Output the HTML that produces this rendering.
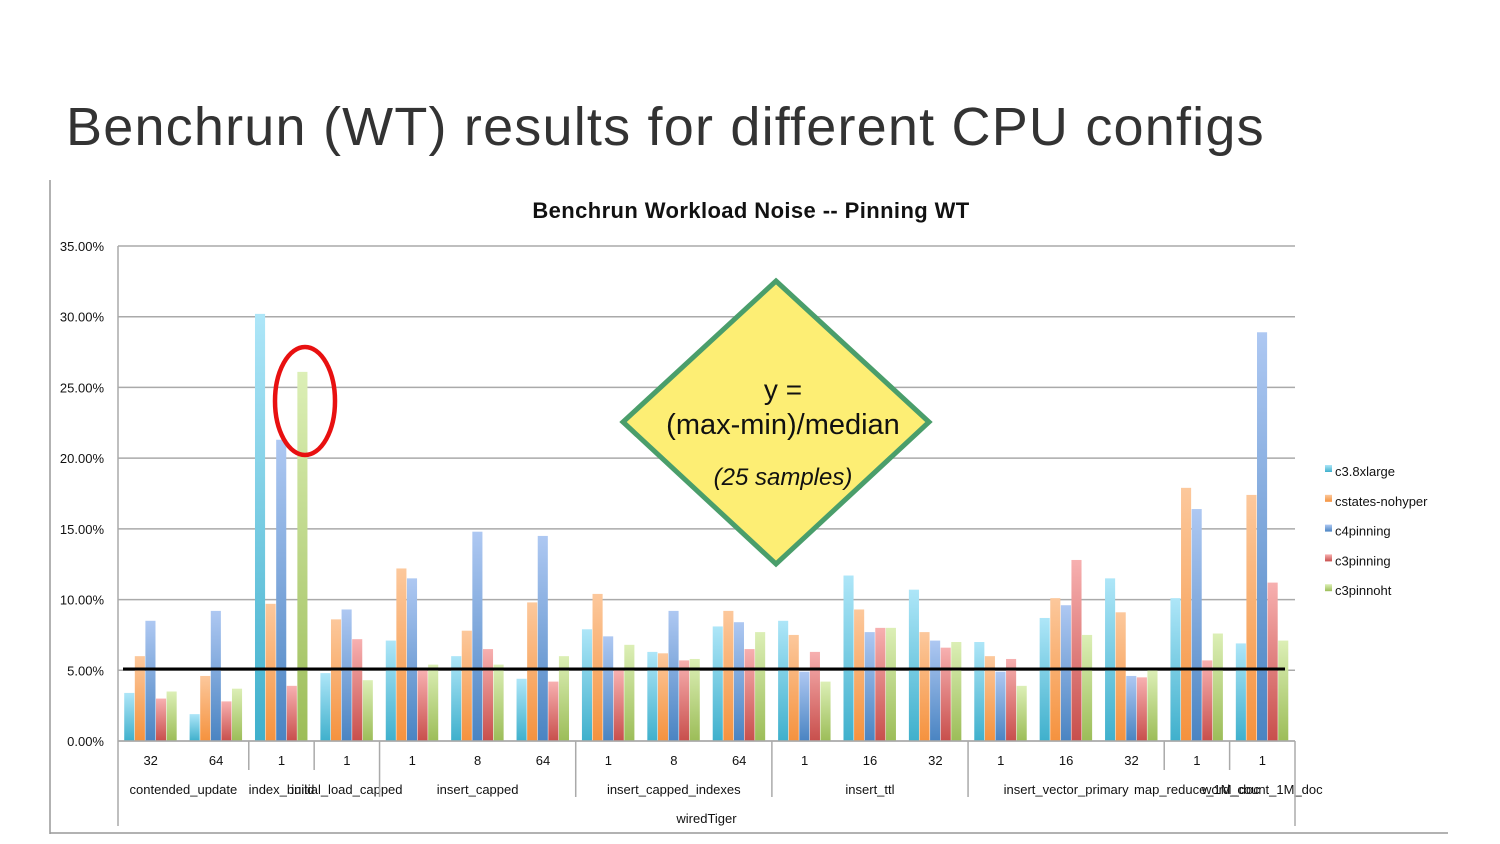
<!DOCTYPE html>
<html><head><meta charset="utf-8"><style>
body{margin:0;width:1500px;height:844px;background:#fff;overflow:hidden;font-family:"Liberation Sans",sans-serif}
svg{position:absolute;left:0;top:0}
</style></head><body>
<svg id="s" width="1500" height="844">
<defs>
<linearGradient id="g0" x1="0" y1="0" x2="0" y2="1"><stop offset="0" stop-color="#aee6f8"/><stop offset="1" stop-color="#3fb0cc"/></linearGradient>
<linearGradient id="g1" x1="0" y1="0" x2="0" y2="1"><stop offset="0" stop-color="#fcc89c"/><stop offset="1" stop-color="#f5923e"/></linearGradient>
<linearGradient id="g2" x1="0" y1="0" x2="0" y2="1"><stop offset="0" stop-color="#aec8f2"/><stop offset="1" stop-color="#4a84c2"/></linearGradient>
<linearGradient id="g3" x1="0" y1="0" x2="0" y2="1"><stop offset="0" stop-color="#f7b0b0"/><stop offset="1" stop-color="#c84f4c"/></linearGradient>
<linearGradient id="g4" x1="0" y1="0" x2="0" y2="1"><stop offset="0" stop-color="#dcefb6"/><stop offset="1" stop-color="#9cbd58"/></linearGradient>
</defs>
<text x="66" y="145" font-size="54" letter-spacing="1.2" fill="#333">Benchrun (WT) results for different CPU configs</text>
<line x1="50" y1="180" x2="50" y2="834" stroke="#999" stroke-width="1.5"/>
<line x1="50" y1="833" x2="1448" y2="833" stroke="#999" stroke-width="1.5"/>
<text x="751" y="218" font-size="22" font-weight="bold" letter-spacing="0.4" text-anchor="middle" fill="#111">Benchrun Workload Noise -- Pinning WT</text>
<g id="grid"></g><g id="bars"></g><g id="xaxis"></g><g id="legend"></g>
<line x1="123" y1="669" x2="1285" y2="669" stroke="#000" stroke-width="3"/>
<polygon points="776,281 929,422 776,564 623,422" fill="#fdee74" stroke="#4a9e6b" stroke-width="5"/>
<text x="783" y="399" font-size="28" text-anchor="middle" fill="#111">y =</text>
<text x="783" y="434" font-size="29" text-anchor="middle" fill="#111">(max-min)/median</text>
<text x="783" y="485" font-size="24" font-style="italic" text-anchor="middle" fill="#111">(25 samples)</text>
<ellipse cx="305" cy="401" rx="30" ry="54" fill="none" stroke="#e81010" stroke-width="4.5"/>
</svg>
<script>
const categories=["32","64","1","1","1","8","64","1","8","64","1","16","32","1","16","32","1","1"];
const groups=["contended_update","index_build","initial_load_capped","insert_capped","insert_capped_indexes","insert_ttl","insert_vector_primary","map_reduce_1M_doc","word_count_1M_doc"];
const groupSizes=[2,1,1,3,3,3,3,1,1];
const seriesNames=["c3.8xlarge","cstates-nohyper","c4pinning","c3pinning","c3pinnoht"];
const c38xlarge=[3.4,1.9,30.2,4.8,7.1,6.0,4.4,7.9,6.3,8.1,8.5,11.7,10.7,7.0,8.7,11.5,10.1,6.9];
const cstatesNohyper=[6.0,4.6,9.7,8.6,12.2,7.8,9.8,10.4,6.2,9.2,7.5,9.3,7.7,6.0,10.1,9.1,17.9,17.4];
const c4pinning=[8.5,9.2,21.3,9.3,11.5,14.8,14.5,7.4,9.2,8.4,4.9,7.7,7.1,4.9,9.6,4.6,16.4,28.9];
const c3pinning=[3.0,2.8,3.9,7.2,5.0,6.5,4.2,5.0,5.7,6.5,6.3,8.0,6.6,5.8,12.8,4.5,5.7,11.2];
const c3pinnoht=[3.5,3.7,26.1,4.3,5.4,5.4,6.0,6.8,5.8,7.7,4.2,8.0,7.0,3.9,7.5,5.0,7.6,7.1];
const yTicks=[0,5,10,15,20,25,30,35];
const series=[c38xlarge,cstatesNohyper,c4pinning,c3pinning,c3pinnoht];
const NS="http://www.w3.org/2000/svg";
const X0=118,X1=1295,Y0=741,Y35=246;
const y=v=>Y0-(v/35)*(Y0-Y35);
const cw=(X1-X0)/categories.length;
const x=i=>X0+i*cw;
function mk(t,a,p){const e=document.createElementNS(NS,t);for(const k in a)e.setAttribute(k,a[k]);p.appendChild(e);return e;}
const grid=document.getElementById('grid');
yTicks.forEach(t=>{
  const l=mk('line',{x1:X0,x2:X1,y1:y(t),y2:y(t),stroke:'#aaa','stroke-width':1.5},grid);
  
  
  const tx=mk('text',{x:104,y:y(t)+5,'font-size':13,'text-anchor':'end',fill:'#111'},grid);
  tx.textContent=t.toFixed(2)+'%';
  
  
});
const yl=mk('line',{x1:X0,x2:X0,y1:246,y2:826,stroke:'#aaa','stroke-width':1.5},grid);


const bars=document.getElementById('bars');
const bw=cw*0.162,off=cw*0.095;
series.forEach((s,si)=>s.forEach((v,i)=>{
  const r=mk('rect',{x:x(i)+off+si*bw,y:y(v),width:bw-0.5,height:Y0-y(v),fill:'url(#g'+si+')'},bars);
  
  
}));
const xa=document.getElementById('xaxis');
categories.forEach((c,i)=>{
  const t=mk('text',{x:x(i)+cw/2,y:765,'font-size':13,'text-anchor':'middle',fill:'#111'},xa);
  t.textContent=c;
  
  
});
let idx=0;
const big=[0,4,7,10,13];
groups.forEach((g,gi)=>{
  const start=idx,end=idx+groupSizes[gi];
  const t=mk('text',{x:(x(start)+x(end))/2,y:794,'font-size':13,'text-anchor':'middle',fill:'#111'},xa);
  t.textContent=g;
  
  
  if(start>0){
    const l=mk('line',{x1:x(start),x2:x(start),y1:Y0,y2:big.includes(start)?797:770,stroke:'#aaa','stroke-width':1.5},xa);
    
    
  }
  idx=end;
});
const el=mk('line',{x1:X1,x2:X1,y1:Y0,y2:826,stroke:'#aaa','stroke-width':1.5},xa);


const ax=mk('line',{x1:X0,x2:X1,y1:Y0,y2:Y0,stroke:'#aaa','stroke-width':1.5},xa);


const wt=mk('text',{x:(X0+X1)/2,y:823,'font-size':13,'text-anchor':'middle',fill:'#111'},xa);
wt.textContent='wiredTiger';


const lg=document.getElementById('legend');
seriesNames.forEach((n,i)=>{
  const yy=471+i*29.8;
  const r=mk('rect',{x:1325,y:yy-6,width:7,height:7,fill:'url(#g'+i+')'},lg);
  
  
  const t=mk('text',{x:1335,y:yy+5,'font-size':13,fill:'#111'},lg);
  t.textContent=n;
  
  
});
</script>
</body></html>
